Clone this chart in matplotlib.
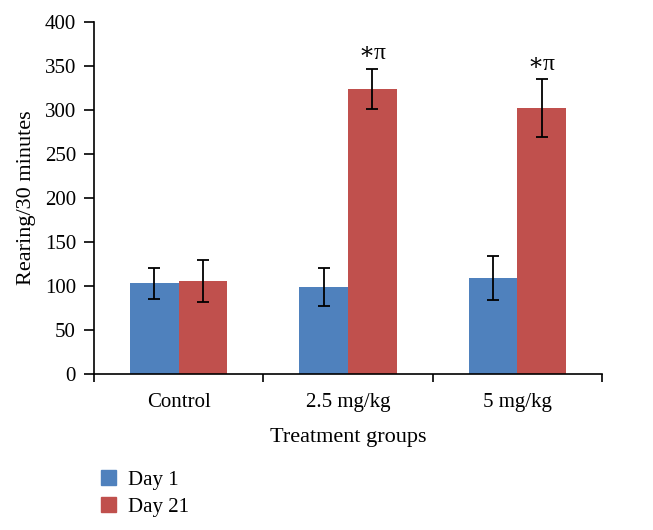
import matplotlib
matplotlib.use("Agg")
import matplotlib.pyplot as plt
import numpy as np
from matplotlib.patches import Patch

categories = ["Control", "2.5 mg/kg", "5 mg/kg"]
day1 = [103, 99, 109]
day1_err = [18, 22, 25]
day21 = [106, 324, 302]
day21_err = [24, 23, 33]
annotations = ["", "\u2217\u03c0", "\u2217\u03c0"]
yticks = [0, 50, 100, 150, 200, 250, 300, 350, 400]

plt.rcParams['font.family'] = ['Liberation Serif', 'DejaVu Serif']

fig = plt.figure(figsize=(6.53, 5.30), dpi=100)
ax = fig.add_axes([94/653, 1-374/530, (602-94)/653, (374-22)/530])

x = np.arange(len(categories))
w = 0.287
blue = "#4F81BD"
red = "#C0504D"
ekw = dict(ecolor="black", elinewidth=1.3, capthick=1.3)
ax.bar(x - w/2, day1, w, color=blue, yerr=day1_err, capsize=4, error_kw=ekw)
ax.bar(x + w/2, day21, w, color=red, yerr=day21_err, capsize=4, error_kw=ekw)

for xi, v, e, a in zip(x, day21, day21_err, annotations):
    if a:
        ax.text(xi + w/2, v + e + 5, a, ha="center", va="bottom", fontsize=17)

ax.set_xlim(-0.5, len(categories) - 0.5)
ax.set_ylim(0, 400)
ax.set_yticks(yticks)
ax.set_xticks(x)
ax.set_xticklabels(categories)
ax.set_xticks(np.arange(len(categories) + 1) - 0.5, minor=True)
ax.tick_params(axis='x', which='major', length=0, labelsize=15, pad=14)
ax.tick_params(axis='x', which='minor', length=6, width=1.2, direction='out')
ax.tick_params(axis='y', labelsize=15, length=7, width=1.2, direction='out', pad=6)
for s in ['top', 'right']:
    ax.spines[s].set_visible(False)
for s in ['left', 'bottom']:
    ax.spines[s].set_linewidth(1.2)

ax.set_ylabel("Rearing/30 minutes", fontsize=16, labelpad=6)
ax.set_xlabel("Treatment groups", fontsize=16, labelpad=11)

handles = [Patch(color=blue), Patch(color=red)]
fig.legend(handles, ["Day 1", "Day 21"], loc="upper left",
           bbox_to_anchor=(101/653, 1-470/530), frameon=False, fontsize=15,
           borderpad=0, borderaxespad=0,
           handlelength=0.72, handleheight=0.72, labelspacing=0.35, handletextpad=0.6)

fig.savefig("out.png", dpi=100)
